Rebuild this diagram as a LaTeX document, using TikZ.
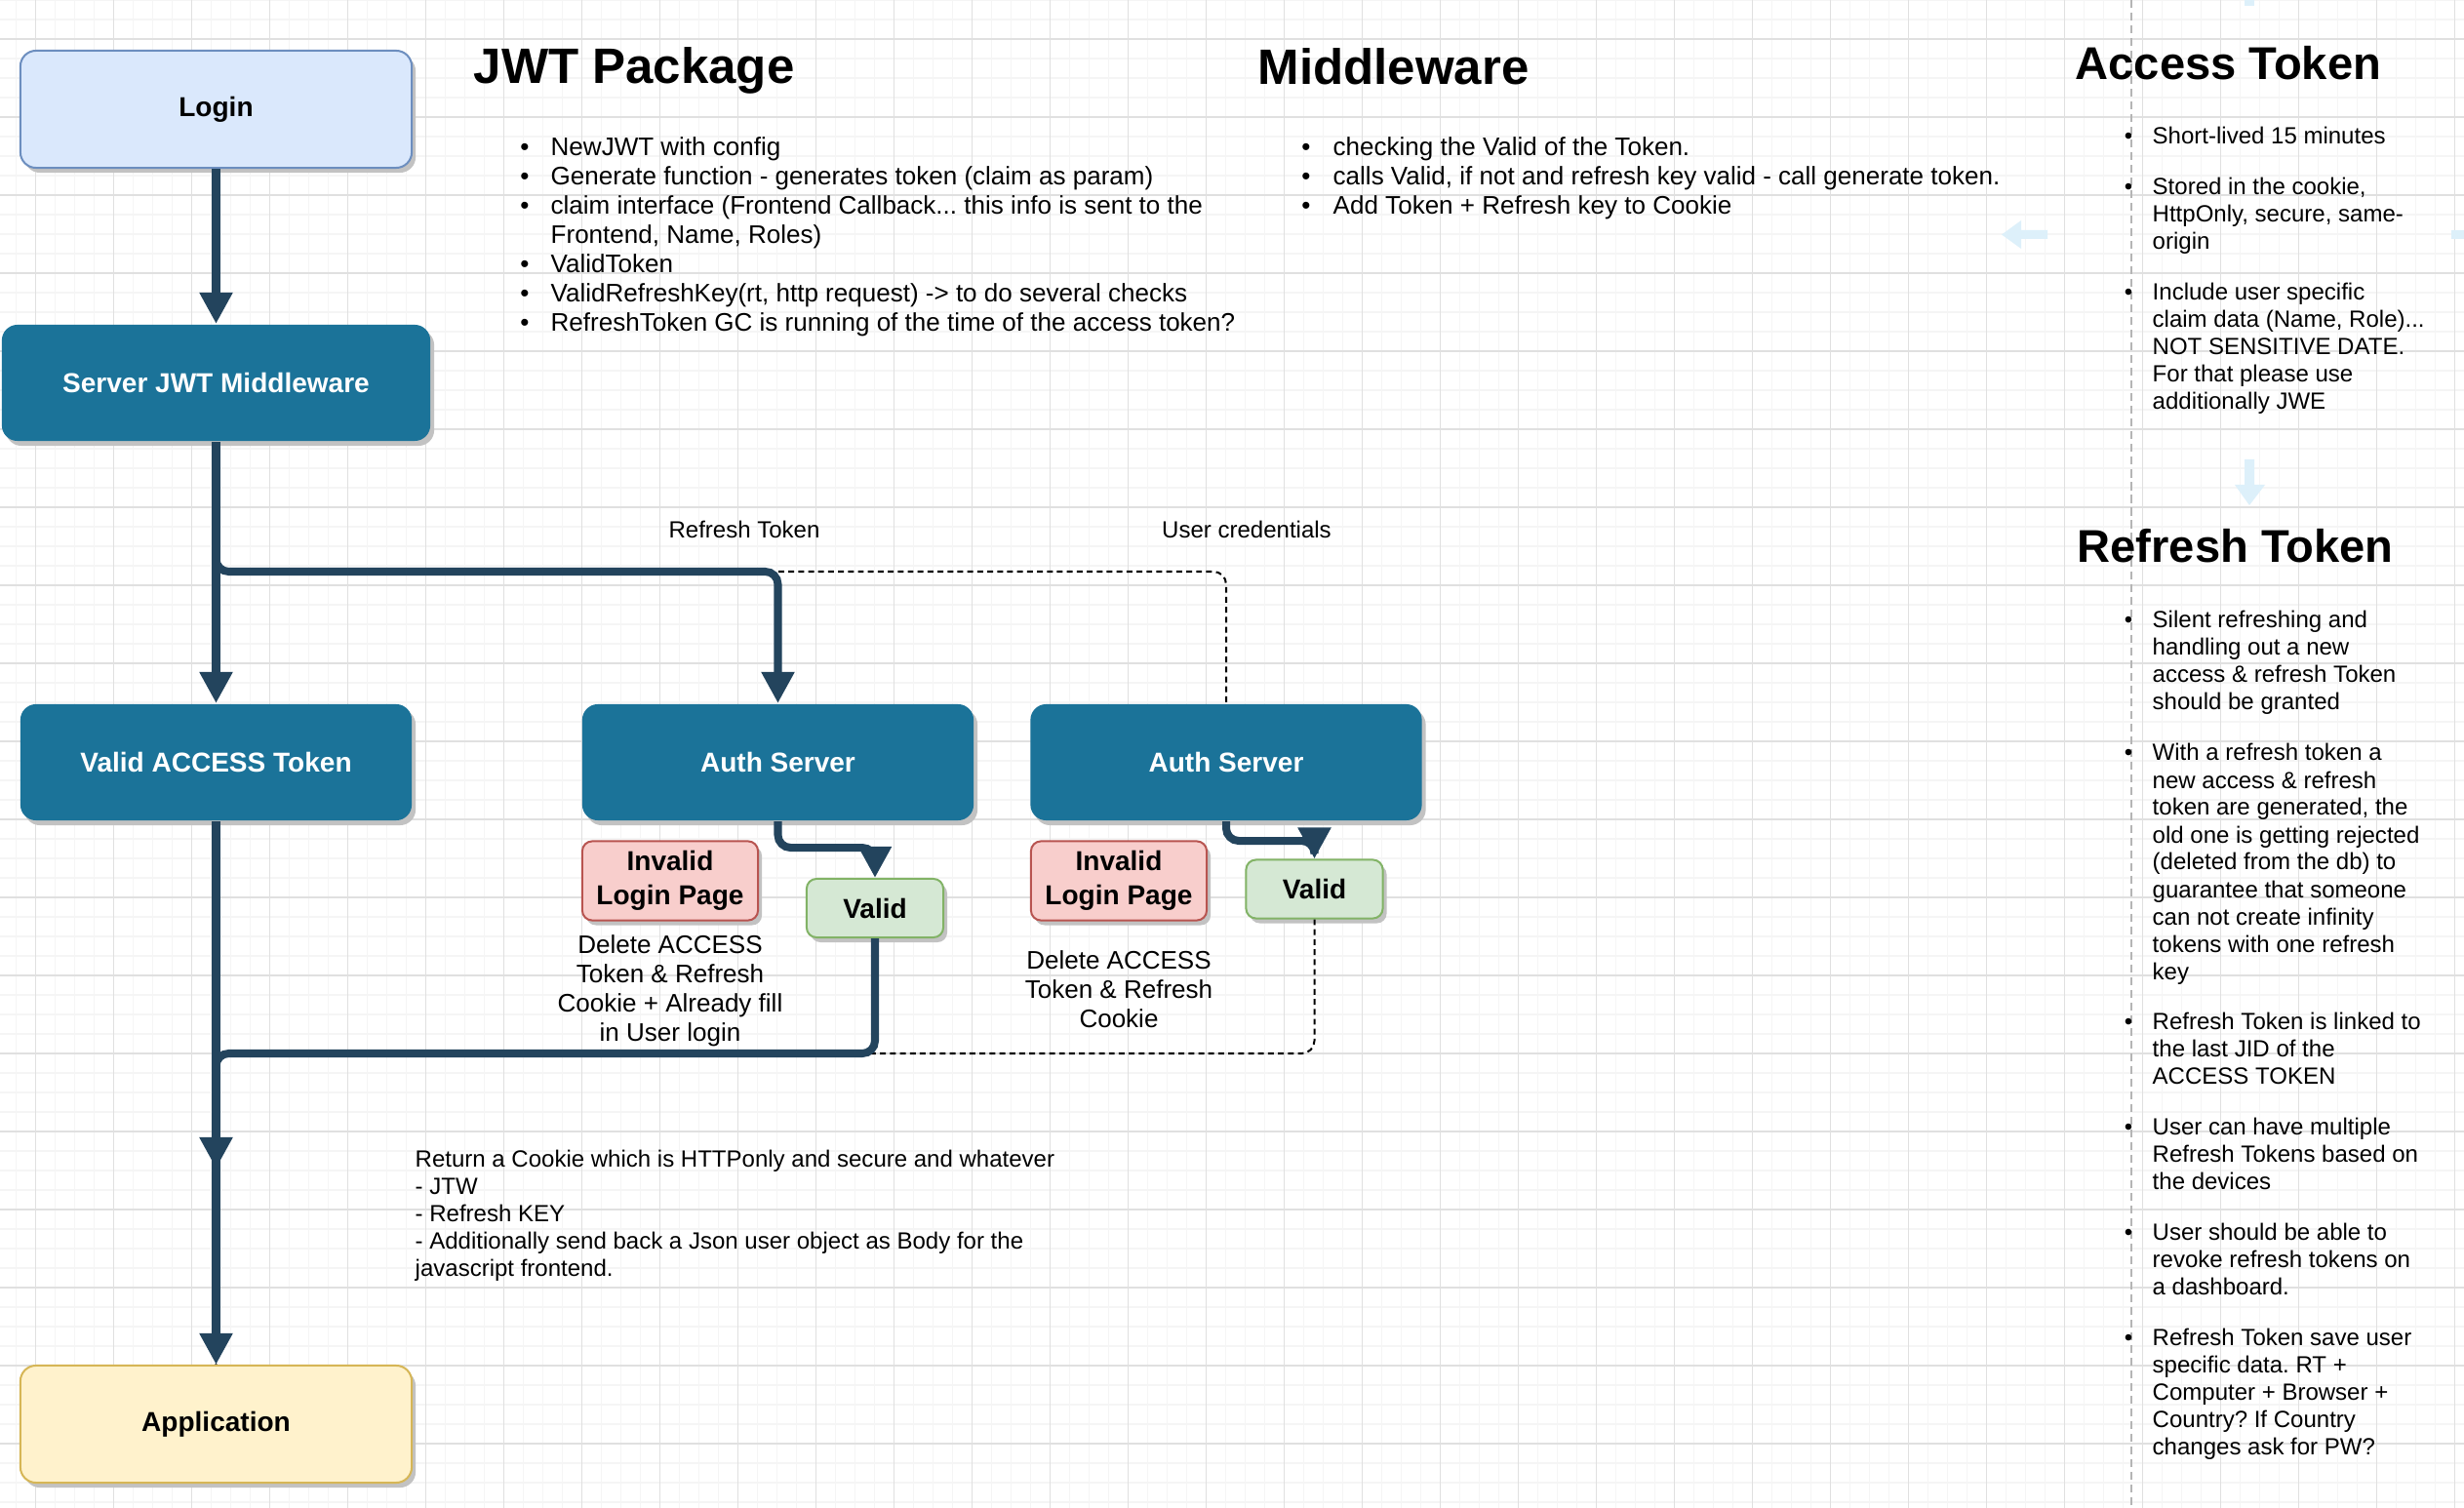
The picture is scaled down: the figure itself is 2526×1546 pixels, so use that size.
\documentclass[tikz,border=0pt]{standalone}
\usepackage{fontspec}
\setmainfont{Liberation Sans}
\usetikzlibrary{arrows.meta,shadows}
\frenchspacing

\definecolor{boxblue}{HTML}{1B7399}
\definecolor{flowcol}{HTML}{23445D}
\definecolor{loginfill}{HTML}{DAE8FC}
\definecolor{loginline}{HTML}{6C8EBF}
\definecolor{badfill}{HTML}{F8CECC}
\definecolor{badline}{HTML}{B85450}
\definecolor{okfill}{HTML}{D5E8D4}
\definecolor{okline}{HTML}{82B366}
\definecolor{appfill}{HTML}{FFF2CC}
\definecolor{appline}{HTML}{D6B656}
\definecolor{shadowcol}{HTML}{C2C2C2}
\definecolor{gridmin}{HTML}{F5F5F5}
\definecolor{gridmaj}{HTML}{E0E0E0}
\definecolor{ghostcol}{HTML}{DDF0FA}
\definecolor{divcol}{HTML}{B5B5B5}
\newcommand{\threedots}{...}

\begin{document}
\frenchspacing
\begin{tikzpicture}[x=0.01cm,y=-0.01cm,
  box/.style={rounded corners=0.16cm,inner sep=0pt,line width=0.57pt,
    font=\bfseries\fontsize{7.97}{9.96}\selectfont,
    drop shadow={shadow xshift=0.04cm,shadow yshift=-0.05cm,fill=shadowcol,opacity=1}},
  darkbox/.style={box,fill=boxblue,text=white,minimum width=4.01cm,minimum height=1.19cm},
  loginbox/.style={box,fill=loginfill,draw=loginline,minimum width=4.01cm,minimum height=1.2cm},
  appbox/.style={box,fill=appfill,draw=appline,minimum width=4.01cm,minimum height=1.2cm},
  badbox/.style={box,rounded corners=0.1cm,fill=badfill,draw=badline,align=center,
    minimum width=1.8cm,minimum height=0.81cm},
  okbox/.style={box,rounded corners=0.1cm,fill=okfill,draw=okline,
    minimum width=1.4cm,minimum height=0.6cm},
  flow/.style={draw=flowcol,line width=2.28pt,rounded corners=0.13cm,
    -{Triangle[length=0.32cm,width=0.32cm]}},
  cred/.style={draw=black,line width=0.57pt,dash pattern=on 1.7pt off 1.2pt,rounded corners=0.13cm},
  txt/.style={inner sep=0pt,anchor=base west},
  listtxt/.style={txt,font=\fontsize{7.4}{8.54}\selectfont},
  sidetxt/.style={txt,font=\fontsize{6.83}{7.97}\selectfont},
  heading/.style={txt,font=\bfseries\fontsize{14.5}{17}\selectfont},
  sidehead/.style={txt,font=\bfseries\fontsize{13.4}{16}\selectfont},
  dot/.style={inner sep=0pt,anchor=base},
  note/.style={inner sep=0pt,align=center,font=\fontsize{7.4}{8.54}\selectfont},
  edgelbl/.style={inner sep=0pt,anchor=base,font=\fontsize{6.83}{7.97}\selectfont},
  ghost/.style={fill=ghostcol}]
\useasboundingbox (0,0) rectangle (2526,1546);
\fill[white] (0,0) rectangle (2526,1546);
% grid
\foreach \gx in {16.7,36.7,...,2526} \draw[gridmin,line width=0.3pt] (\gx,0)--(\gx,1546);
\foreach \gy in {0,20,...,1546} \draw[gridmin,line width=0.3pt] (0,\gy)--(2526,\gy);
\foreach \gx in {36.7,116.7,...,2526} \draw[gridmaj,line width=0.3pt] (\gx,0)--(\gx,1546);
\foreach \gy in {40,120,...,1546} \draw[gridmaj,line width=0.3pt] (0,\gy)--(2526,\gy);

% boxes
\node[loginbox] (login) at (221.5,112) {Login};
\node[darkbox,minimum width=4.39cm] (mw) at (221.5,392.5) {Server JWT Middleware};
\node[darkbox] (vat) at (221.5,781.5) {Valid ACCESS Token};
\node[darkbox] (auth1) at (797.5,781.5) {Auth Server};
\node[darkbox] (auth2) at (1257,781.5) {Auth Server};
\node[badbox] (inv1) at (687,903) {Invalid\\Login Page};
\node[okbox] (valid1) at (897,931) {Valid};
\node[badbox] (inv2) at (1147,903) {Invalid\\Login Page};
\node[okbox] (valid2) at (1347.5,911.5) {Valid};
\node[appbox] (app) at (221.5,1460) {Application};

\coordinate (rtrow) at (0,586);
\coordinate (backrow) at (0,1080);
\coordinate (join) at (221.5,1198);

% connectors
\draw[cred] (mw.south) |- (auth2.north |- rtrow) -- (auth2.north);
\draw[cred] (valid2.south) |- (app.north |- backrow) -- (app.north);
\draw[flow] (login) -- (mw);
\draw[flow] (mw) -- (vat);
\draw[flow] (mw.south) |- (auth1.north |- rtrow) -- (auth1.north);
\draw[flow] (auth1.south) -- ++(0,27) -| (valid1.north);
\draw[flow] (auth2.south) -- ++(0,20) -| (valid2.north);
\draw[flow] (valid1.south) |- (join |- backrow) -- (join);
\draw[flow] (vat) -- (app);

\node[edgelbl] (rtlbl) at (763,552) {Refresh Token};
\node[edgelbl] (uclbl) at (1278,552) {User credentials};

\node[note,anchor=north] (del1) at (687,958) {Delete ACCESS\\Token \& Refresh\\Cookie + Already fill\\in User login};
\node[note,anchor=north] (del2) at (1147,974) {Delete ACCESS\\Token \& Refresh\\Cookie};
\node[inner sep=0pt,anchor=north west,align=left,font=\fontsize{6.83}{7.97}\selectfont] (ret) at (425,1178)
  {Return a Cookie which is HTTPonly and secure and whatever\\- JTW\\- Refresh KEY\\- Additionally send back a Json user object as Body for the\\javascript frontend.};

% JWT package notes
\node[heading] (jwthead) at (485,86) {JWT Package};
\foreach \y [count=\i] in {160,190,220,280,310,340} \node[dot,font=\fontsize{7.4}{8.54}\selectfont] (jdot\i) at (538,\y) {\textbullet};
\foreach \y/\t [count=\i] in {160/NewJWT with config,
  190/Generate function - generates token (claim as param),
  220/claim interface (Frontend Callback\threedots{} this info is sent to the,
  250/{Frontend, Name, Roles)},
  280/ValidToken,
  310/{ValidRefreshKey(rt, http request) -> to do several checks},
  340/RefreshToken GC is running of the time of the access token?}
  \node[listtxt] (jline\i) at (564,\y) {\t};

% middleware notes
\node[heading] (mwhead) at (1289,87) {Middleware};
\foreach \y [count=\i] in {160,190,220} \node[dot,font=\fontsize{7.4}{8.54}\selectfont] (mdot\i) at (1339,\y) {\textbullet};
\foreach \y/\t [count=\i] in {160/checking the Valid of the Token.,
  190/{calls Valid, if not and refresh key valid - call generate token.},
  220/Add Token + Refresh key to Cookie}
  \node[listtxt] (mline\i) at (1366,\y) {\t};

% side column
\draw[divcol,line width=0.57pt,dash pattern=on 2.3pt off 1.4pt] (2185,0) -- (2185,1546);
\fill[ghost] (2099,236) -- (2072,236) -- (2072,226) -- (2052,240.5) -- (2072,255) -- (2072,245) -- (2099,245) -- cycle;
\fill[ghost] (2513,236) rectangle (2526,245);
\fill[ghost] (2301,0) rectangle (2311,6);
\fill[ghost] (2301,471) -- (2311,471) -- (2311,497) -- (2322,497) -- (2306,518) -- (2291,497) -- (2301,497) -- cycle;
\node[sidehead] (athead) at (2127,82) {Access Token};
\node[sidehead] (rthead) at (2129,577) {Refresh Token};
\foreach \y [count=\i] in {148,200,308,644,780,1055,1163,1271,1379}
  \node[dot,font=\fontsize{6.83}{7.97}\selectfont] (sdot\i) at (2182,\y) {\textbullet};
\foreach \y/\t [count=\i] in {148/Short-lived 15 minutes,
  200/{Stored in the cookie,}, 228/{HttpOnly, secure, same-}, 256/origin,
  308/Include user specific, 336/{claim data (Name, Role)\threedots}, 364/NOT SENSITIVE DATE.,
  392/For that please use, 420/additionally JWE,
  644/Silent refreshing and, 672/handling out a new, 700/access \& refresh Token, 728/should be granted,
  780/With a refresh token a, 808/new access \& refresh, 836/{token are generated, the},
  864/old one is getting rejected, 892/(deleted from the db) to, 920/guarantee that someone,
  948/can not create infinity, 976/tokens with one refresh, 1004/key,
  1055/Refresh Token is linked to, 1083/the last JID of the, 1111/ACCESS TOKEN,
  1163/User can have multiple, 1191/Refresh Tokens based on, 1219/the devices,
  1271/User should be able to, 1299/revoke refresh tokens on, 1327/a dashboard.,
  1379/Refresh Token save user, 1407/specific data. RT +, 1435/Computer + Browser +,
  1463/Country? If Country, 1491/changes ask for PW?}
  \node[sidetxt] (sline\i) at (2206,\y) {\t};
\end{tikzpicture}
\end{document}
